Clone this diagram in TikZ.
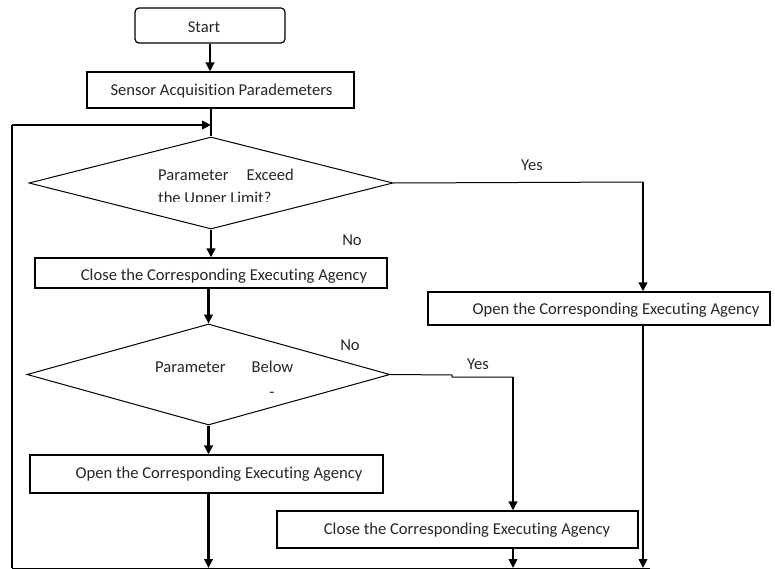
\documentclass[tikz,border=0pt]{standalone}
\usepackage{fontspec}
\setmainfont{Carlito}[Ligatures={NoCommon}]
\usetikzlibrary{arrows.meta,shapes.geometric}
\begin{document}
\begin{tikzpicture}[x=1pt,y=-1pt,
  font=\fontsize{16.6}{18}\selectfont,
  box/.style={draw, line width=1.2pt, inner sep=0pt},
  dia/.style={diamond, draw, line width=1pt, inner sep=0pt},
  arr/.style={line width=2.4pt, -{Triangle[length=9pt,width=8.5pt]}},
  thinline/.style={line width=1pt},
  txt/.style={inner sep=0pt, text=black!85}]
\useasboundingbox (0,0) rectangle (775,569);

% shapes
\node[box, rounded corners=4pt, minimum width=150pt, minimum height=35pt] (start) at (210,25.5) {};
\node[box, minimum width=267pt, minimum height=36pt] (sensor) at (220.5,90) {};
\node[dia, minimum width=364pt, minimum height=92pt] (d1) at (211,183) {};
\node[box, minimum width=352pt, minimum height=30pt] (close1) at (211,273) {};
\node[box, minimum width=342pt, minimum height=33pt] (open1) at (599,308.5) {};
\node[dia, minimum width=363pt, minimum height=101pt] (d2) at (208.5,374.5) {};
\node[box, minimum width=353pt, minimum height=38pt] (open2) at (206.5,474) {};
\node[box, minimum width=361pt, minimum height=37pt] (close2) at (457.5,529.5) {};

% texts
\node[txt] (tstart) at (204,27) {Start};
\node[txt] (tsensor) at (221.5,91) {Sensor Acquisition Parademeters};
\node[txt, anchor=west] (td1a) at (158,175) {Parameter\hspace{18pt}Exceed};
\begin{scope}
  \clip (150,188) rectangle (300,202);
  \node[txt, anchor=west] (td1b) at (158,199) {the Upper Limit?};
\end{scope}
\node[txt] (tclose1) at (224,276) {Close the Corresponding Executing Agency};
\node[txt] (topen1) at (616,310) {Open the Corresponding Executing Agency};
\node[txt, anchor=west] (td2a) at (155,367) {Parameter\hspace{26pt}Below};
\node[txt] (td2b) at (272,395) {-};
\node[txt] (topen2) at (219,474) {Open the Corresponding Executing Agency};
\node[txt] (tclose2) at (467,530) {Close the Corresponding Executing Agency};

% labels
\node[txt] (yes1) at (532,165) {Yes};
\node[txt] (no1) at (352,240) {No};
\node[txt] (no2) at (350,345) {No};
\node[txt] (yes2) at (478,364) {Yes};

% coordinates
\coordinate (bl) at (12,568);
\coordinate (tl) at (12,125);
\coordinate (br) at (650,568);
\coordinate (y1) at (643,182);
\coordinate (y2a) at (452,375);
\coordinate (y2b) at (452,377);
\coordinate (y2c) at (513,377);

% connectors
\draw[arr] (start.south) -- (start.south |- sensor.north);
\draw[line width=2pt] (d1.north |- sensor.south) -- (d1.north);
\draw[thinline] (br) -- (bl);
\draw[line width=1.6pt] (bl) -- (tl);
\draw[arr] (tl) -- (tl -| d1.north);
\draw[thinline] (d1.east) -- (y1);
\draw[arr] (y1) -- (y1 |- open1.north);
\draw[arr] (d1.south) -- (d1.south |- close1.north);
\draw[arr] (y1 |- open1.south) -- (y1 |- br);
\draw[arr] (d2.north |- close1.south) -- (d2.north);
\draw[arr] (d2.south) -- (d2.south |- open2.north);
\draw[thinline] (d2.east) -- (y2a) -- (y2b) -- (y2c);
\draw[arr] (y2c) -- (y2c |- close2.north);
\draw[arr] (d2.south |- open2.south) -- (d2.south |- br);
\draw[arr] (y2c |- close2.south) -- (y2c |- br);
\end{tikzpicture}
\end{document}
